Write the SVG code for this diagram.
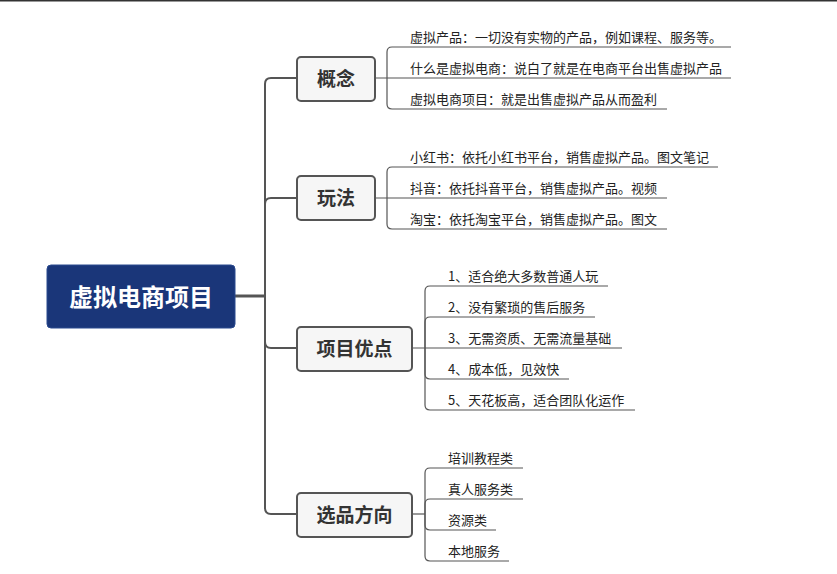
<svg xmlns="http://www.w3.org/2000/svg" width="837" height="574" viewBox="0 0 837 574">
<style>
.trunk{fill:none;stroke:#555;stroke-width:2}
.sub{fill:none;stroke:#555;stroke-width:1.2}
.box{fill:#f6f6f6;stroke:#555;stroke-width:2}
.lbl{font-family:"Noto Sans CJK SC","Microsoft YaHei",sans-serif;font-size:19px;font-weight:bold;fill:#333;text-anchor:middle}
.txt{font-family:"Noto Sans CJK SC","Microsoft YaHei",sans-serif;font-size:13px;fill:#222}
</style>
<rect x="0" y="0" width="837" height="1.5" fill="#333"/>
<g id="connectors">
<path d="M235,296 H265" fill="none" stroke="#555" stroke-width="3"/>
<path class="trunk" d="M265,296 V84 Q265,78 271,78 H297"/>
<path class="trunk" d="M265,296 V204 Q265,198 271,198 H297"/>
<path class="trunk" d="M265,296 V342 Q265,348 271,348 H297"/>
<path class="trunk" d="M265,296 V508 Q265,514 271,514 H297"/>
<path class="sub" d="M375,78 H731"/>
<path class="sub" d="M387,78 V52 Q387,47 392,47 H731"/>
<path class="sub" d="M387,78 V104 Q387,109 392,109 H667"/>
<path class="sub" d="M375,198 H667"/>
<path class="sub" d="M387,198 V172 Q387,167 392,167 H718"/>
<path class="sub" d="M387,198 V224 Q387,229 392,229 H667"/>
<path class="sub" d="M412,348 H622"/>
<path class="sub" d="M425,348 V291 Q425,286 430,286 H608"/>
<path class="sub" d="M425,348 V322 Q425,317 430,317 H595"/>
<path class="sub" d="M425,348 V374 Q425,379 430,379 H569"/>
<path class="sub" d="M425,348 V405 Q425,410 430,410 H635"/>
<path class="sub" d="M412,514 H425"/>
<path class="sub" d="M425,514 V473 Q425,468 430,468 H523"/>
<path class="sub" d="M425,514 V504 Q425,499 430,499 H523"/>
<path class="sub" d="M425,514 V525 Q425,530 430,530 H496"/>
<path class="sub" d="M425,514 V556 Q425,561 430,561 H509"/>
</g>
<g id="root">
<rect x="47" y="265" width="188" height="63" rx="4" fill="#1a3679" stroke="#2a4a8f" stroke-width="1"/>
<text x="141" y="306" font-family="Noto Sans CJK SC,Microsoft YaHei,sans-serif" font-size="24" font-weight="bold" fill="#fff" text-anchor="middle">虚拟电商项目</text>
</g>
<g id="n-concept">
<rect class="box" x="297" y="57" width="78" height="44" rx="4"/>
<text class="lbl" x="336" y="86">概念</text>
</g>
<g id="n-play">
<rect class="box" x="297" y="176" width="78" height="44" rx="4"/>
<text class="lbl" x="336" y="205">玩法</text>
</g>
<g id="n-adv">
<rect class="box" x="297" y="327" width="115" height="44" rx="4"/>
<text class="lbl" x="354.5" y="356">项目优点</text>
</g>
<g id="n-sel">
<rect class="box" x="297" y="493" width="115" height="44" rx="4"/>
<text class="lbl" x="354.5" y="522">选品方向</text>
</g>
<g id="c-concept">
<text class="txt" x="410" y="42">虚拟产品：一切没有实物的产品，例如课程、服务等。</text>
<text class="txt" x="410" y="73">什么是虚拟电商：说白了就是在电商平台出售虚拟产品</text>
<text class="txt" x="410" y="104">虚拟电商项目：就是出售虚拟产品从而盈利</text>
</g>
<g id="c-play">
<text class="txt" x="410" y="162">小红书：依托小红书平台，销售虚拟产品。图文笔记</text>
<text class="txt" x="410" y="193">抖音：依托抖音平台，销售虚拟产品。视频</text>
<text class="txt" x="410" y="224">淘宝：依托淘宝平台，销售虚拟产品。图文</text>
</g>
<g id="c-adv">
<text class="txt" x="448" y="281">1、适合绝大多数普通人玩</text>
<text class="txt" x="448" y="312">2、没有繁琐的售后服务</text>
<text class="txt" x="448" y="343">3、无需资质、无需流量基础</text>
<text class="txt" x="448" y="374">4、成本低，见效快</text>
<text class="txt" x="448" y="405">5、天花板高，适合团队化运作</text>
</g>
<g id="c-sel">
<text class="txt" x="448" y="463">培训教程类</text>
<text class="txt" x="448" y="494">真人服务类</text>
<text class="txt" x="448" y="525">资源类</text>
<text class="txt" x="448" y="556">本地服务</text>
</g>
</svg>
